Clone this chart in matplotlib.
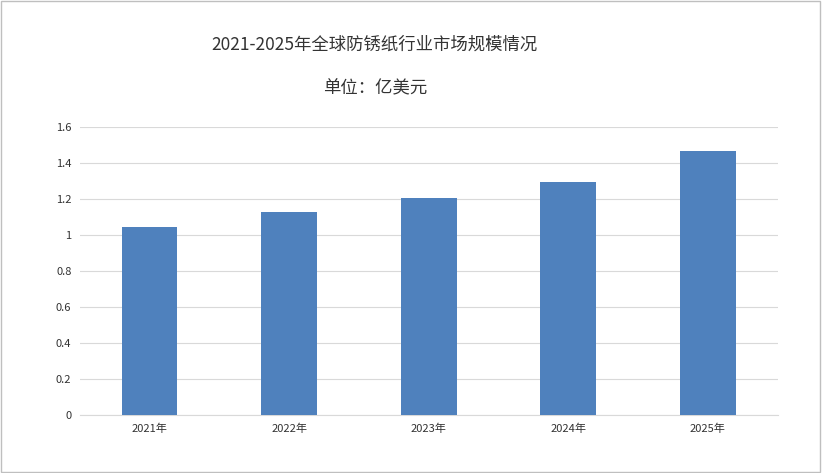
import matplotlib.pyplot as plt
import numpy as np

plt.rcParams["font.family"] = ["Noto Sans CJK SC", "DejaVu Sans"]

years = ["2021年", "2022年", "2023年", "2024年", "2025年"]
values = [1.045, 1.128, 1.206, 1.294, 1.467]
yticks = [0, 0.2, 0.4, 0.6, 0.8, 1, 1.2, 1.4, 1.6]
ytick_labels = ["0", "0.2", "0.4", "0.6", "0.8", "1", "1.2", "1.4", "1.6"]

fig = plt.figure(figsize=(8.22, 4.73), dpi=100)
ax = fig.add_axes([0.097, 0.123, 0.849, 0.608])

x = np.arange(len(years))
ax.bar(x, values, width=0.4, color="#4F81BD", zorder=3)

ax.set_xlim(-0.5, len(years) - 0.5)
ax.set_ylim(0, 1.6)
ax.set_yticks(yticks)
ax.set_yticklabels(ytick_labels)
ax.set_xticks(x)
ax.set_xticklabels(years)
ax.tick_params(length=0, labelsize=8, colors="#333333", pad=6)
ax.grid(axis="y", color="#D9D9D9", linewidth=0.8, zorder=0)
for s in ["top", "right", "left"]:
    ax.spines[s].set_visible(False)
ax.spines["bottom"].set_color("#D9D9D9")

fig.text(0.456, 0.905, "2021-2025年全球防锈纸行业市场规模情况", ha="center", va="center",
         fontsize=12.5, color="#333333")
fig.text(0.456, 0.813, "单位：亿美元", ha="center", va="center", fontsize=12.5, color="#333333")

fig.patches.append(plt.Rectangle((0.001, 0.002), 0.997, 0.995, transform=fig.transFigure,
                                 fill=False, edgecolor="#BFBFBF", linewidth=1))

fig.savefig("out.png", dpi=100)
